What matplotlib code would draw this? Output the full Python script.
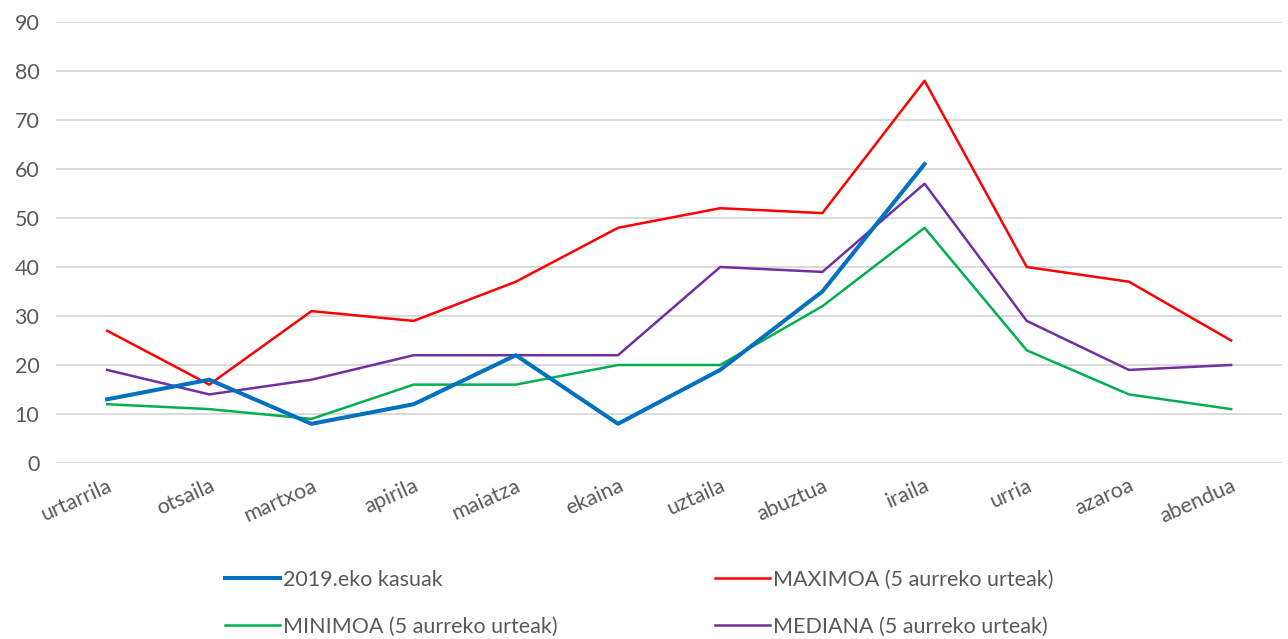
import numpy as np
from matplotlib import pyplot as plt

plt.rcParams['font.family'] = ['Lato', 'DejaVu Sans']

# Hilabeteak
hilabeteak = ['urtarrila', 'otsaila', 'martxoa', 'apirila', 'maiatza', 'ekaina',
              'uztaila', 'abuztua', 'iraila', 'urria', 'azaroa', 'abendua']

kasuak_2019 = [13, 17, 8, 12, 22, 8, 19, 35, 61]
maximoa = [27, 16, 31, 29, 37, 48, 52, 51, 78, 40, 37, 25]
minimoa = [12, 11, 9, 16, 16, 20, 20, 32, 48, 23, 14, 11]
mediana = [19, 14, 17, 22, 22, 22, 40, 39, 57, 29, 19, 20]

fig = plt.figure(figsize=(12.88, 6.39), dpi=100)
ax = fig.add_axes([0.0435, 0.2754, 0.952, 0.6902])

x = np.arange(len(hilabeteak))
ax.plot(x[:len(kasuak_2019)], kasuak_2019, color='#0070C0', lw=2.9,
        label='2019.eko kasuak', zorder=5)
ax.plot(x, maximoa, color='#FF0000', lw=1.8, label='MAXIMOA (5 aurreko urteak)')
ax.plot(x, minimoa, color='#00B050', lw=1.8, label='MINIMOA (5 aurreko urteak)')
ax.plot(x, mediana, color='#7030A0', lw=1.8, label='MEDIANA (5 aurreko urteak)')

ax.set_xlim(-0.5, len(hilabeteak) - 0.5)
ax.set_ylim(0, 90)
ax.set_yticks(range(0, 91, 10))
ax.set_xticks(x)
ax.set_xticklabels(hilabeteak, rotation=24, ha='right', rotation_mode='anchor')
ax.tick_params(axis='both', length=0, labelsize=15.5, labelcolor='#595959')
ax.tick_params(axis='x', pad=9)
ax.tick_params(axis='y', pad=12)
ax.grid(axis='y', color='#D9D9D9', lw=1.4)
ax.set_axisbelow(True)
for s in ax.spines.values():
    s.set_visible(False)

h, l = ax.get_legend_handles_labels()
# ordena: 2019, MAX / MIN, MED
leg = fig.legend([h[0], h[2], h[1], h[3]], [l[0], l[2], l[1], l[3]],
                 ncol=2, loc='center left', bbox_to_anchor=(0.1595, 0.056),
                 frameon=False, fontsize=15.5, handlelength=2.55,
                 handletextpad=0.15, columnspacing=7.3, labelspacing=1.25)
for t in leg.get_texts():
    t.set_color('#595959')

plt.savefig('out.png', dpi=100)
